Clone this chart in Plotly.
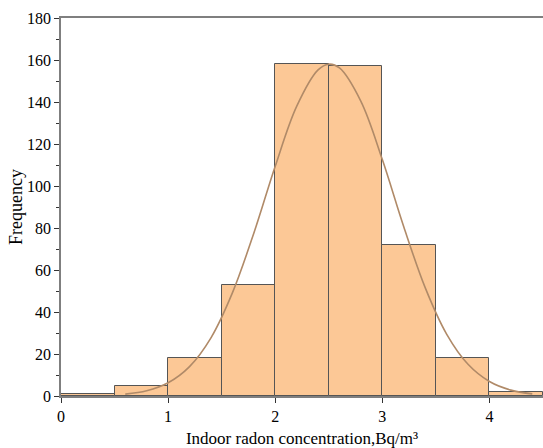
import plotly.graph_objects as go

# Histogram data (bin centers, width 0.5)
bin_centers = [0.25, 0.75, 1.25, 1.75, 2.25, 2.75, 3.25, 3.75, 4.25]
counts = [1, 5, 18, 53, 158, 157, 72, 18, 2]

# Fitted normal curve
curve_x = [0.6, 0.8, 1.0, 1.2, 1.4, 1.6, 1.8, 2.0, 2.2, 2.4, 2.5, 2.6, 2.8,
           3.0, 3.2, 3.4, 3.6, 3.8, 4.0, 4.2, 4.4]
curve_y = [0.9, 2.5, 6.3, 14.0, 27.7, 49.1, 77.5, 109.4, 137.9, 155.3, 158.0,
           156.2, 140.3, 112.6, 80.6, 51.6, 29.5, 15.1, 6.9, 2.8, 1.0]

x_ticks = [0, 1, 2, 3, 4]
y_ticks = [0, 20, 40, 60, 80, 100, 120, 140, 160, 180]

font_family = "Liberation Serif, Times New Roman, serif"

fig = go.Figure()
fig.add_trace(go.Bar(
    x=bin_centers, y=counts, width=0.5,
    marker=dict(color="#FCC896", line=dict(color="#555555", width=1)),
    showlegend=False,
))
fig.add_trace(go.Scatter(
    x=curve_x, y=curve_y, mode="lines",
    line=dict(color="#B08A68", width=1.6, shape="spline"),
    showlegend=False,
))

fig.update_layout(
    width=543, height=448,
    margin=dict(l=61, r=0, t=18, b=52),
    plot_bgcolor="white", paper_bgcolor="white",
    font=dict(family=font_family, size=16, color="black"),
    bargap=0,
)
fig.update_xaxes(
    range=[0, 4.5], tickvals=x_ticks, ticktext=[str(v) for v in x_ticks],
    showline=True, linecolor="#7f7f7f", linewidth=1.5, mirror=True,
    ticks="outside", ticklen=5, tickcolor="#333333", tickwidth=1,
    showgrid=False, zeroline=False, automargin=False,
    title=dict(text="Indoor radon concentration,Bq/m³", font=dict(size=17), standoff=14),
)
fig.update_yaxes(
    range=[0, 180], tickvals=y_ticks,
    showline=True, linecolor="#7f7f7f", linewidth=1.5,
    ticks="outside", ticklen=5, tickcolor="#333333", tickwidth=1,
    minor=dict(ticks="outside", ticklen=3, tickcolor="#333333", dtick=10, showgrid=False),
    showgrid=False, zeroline=False, automargin=False,
    title=dict(text="Frequency", font=dict(size=18), standoff=0),
)

fig.write_html("out.html")
